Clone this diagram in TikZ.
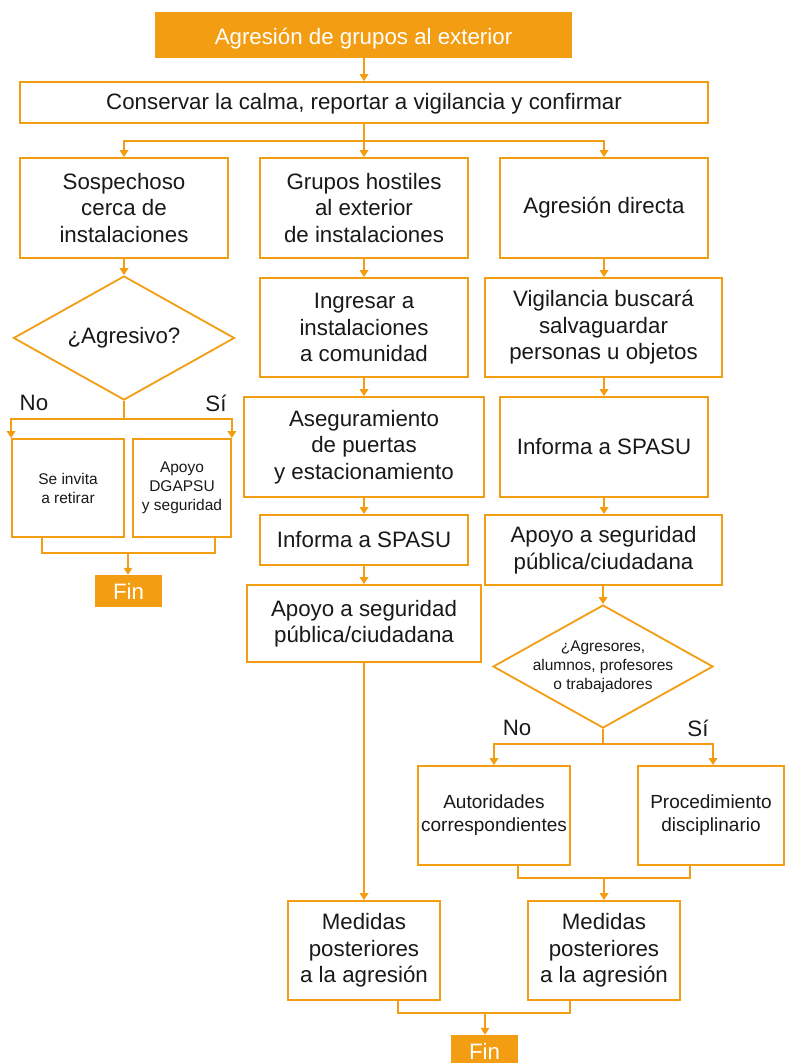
\documentclass[tikz,border=0pt]{standalone}
\usepackage{fontspec}
\setmainfont{Liberation Sans}
\usetikzlibrary{arrows.meta,shapes.geometric}
\definecolor{org}{RGB}{243,157,18}
\definecolor{txt}{RGB}{25,25,25}
\begin{document}
\begin{tikzpicture}[x=1pt,y=-1pt,
  big/.style={font=\fontsize{22.3}{26.5}\selectfont},
  med/.style={font=\fontsize{19}{23}\selectfont},
  small/.style={font=\fontsize{15.5}{19}\selectfont},
  box/.style={draw=org, line width=1.8pt, fill=white, text=txt, align=center, inner sep=0pt, big},
  filled/.style={fill=org, draw=none, text=white, align=center, inner sep=0pt, big},
  dia/.style={shape=diamond, draw=org, line width=1.8pt, fill=white, inner sep=0pt, aspect=1.8},
  txtn/.style={text=txt, align=center, inner sep=0pt},
  lbl/.style={text=txt, inner sep=0pt, big},
  ln/.style={draw=org, line width=1.8pt},
  arr/.style={draw=org, line width=1.8pt, -{Triangle[width=8.5pt,length=7pt]}}
]
\useasboundingbox (0,0) rectangle (786,1063);

% nodes
\node[filled, minimum width=417, minimum height=46] (top) at (363.5,35) {\raisebox{-4pt}[\height][\depth]{Agresión de grupos al exterior}};
\node[box, minimum width=688, minimum height=41] (conserve) at (364,102.5) {\raisebox{-1.5pt}[\height][\depth]{Conservar la calma, reportar a vigilancia y confirmar}};

\node[box, minimum width=208, minimum height=100] (s1) at (124,208) {Sospechoso\\cerca de\\instalaciones};
\node[box, minimum width=208, minimum height=100] (s2) at (364,208) {Grupos hostiles\\al exterior\\de instalaciones};
\node[box, minimum width=208, minimum height=100] (s3) at (604,208) {Agresión directa};

% left column
\node[dia, minimum width=221, minimum height=124] (d1) at (124,338) {};
\node[txtn, big] (d1t) at (d1.center) {¿Agresivo?};
\node[box, small, minimum width=112, minimum height=98] (l1) at (68,488) {Se invita\\a retirar};
\node[box, small, minimum width=98, minimum height=98] (l2) at (182,488) {Apoyo\\DGAPSU\\y seguridad};
\node[filled, minimum width=67, minimum height=32] (fin1) at (128.5,591) {Fin};
\node[lbl] (no1) at (34,403) {No};
\node[lbl] (si1) at (216,403) {Sí};

% middle column
\node[box, minimum width=208, minimum height=99] (m1) at (364,327.5) {Ingresar a\\instalaciones\\a comunidad};
\node[box, minimum width=240, minimum height=100] (m2) at (364,447) {Aseguramiento\\de puertas\\y estacionamiento};
\node[box, minimum width=208, minimum height=50] (m3) at (364,540) {Informa a SPASU};
\node[box, minimum width=234, minimum height=77] (m4) at (364,623.5) {Apoyo a seguridad\\pública/ciudadana};
\node[box, minimum width=152, minimum height=99] (f1) at (364,950.5) {Medidas\\posteriores\\a la agresión};

% right column
\node[box, minimum width=237, minimum height=99] (r1) at (603.5,327.5) {Vigilancia buscará\\salvaguardar\\personas u objetos};
\node[box, minimum width=208, minimum height=100] (r2) at (604,447) {Informa a SPASU};
\node[box, minimum width=237, minimum height=70] (r3) at (603.5,550) {Apoyo a seguridad\\pública/ciudadana};
\node[dia, minimum width=220, minimum height=123] (d2) at (603,666.5) {};
\node[txtn, small] (d2t) at (d2.center) {¿Agresores,\\alumnos, profesores\\o trabajadores};
\node[lbl] (no2) at (517,728) {No};
\node[lbl] (si2) at (698,728) {Sí};
\node[box, med, minimum width=152, minimum height=99] (a1) at (494,815.5) {Autoridades\\correspondientes};
\node[box, med, minimum width=146, minimum height=99] (a2) at (711,815.5) {Procedimiento\\disciplinario};
\node[box, minimum width=152, minimum height=99] (f2) at (604,950.5) {Medidas\\posteriores\\a la agresión};
\node[filled, minimum width=67, minimum height=33] (fin2) at (484.5,1051.5) {Fin};

% connectors
\draw[arr] (conserve.north |- top.south) -- (conserve.north);
\draw[ln] (conserve.south) -- ++(0,17) coordinate (br);
\draw[arr] (br) -| (s1.north);
\draw[arr] (br) -- (s2.north);
\draw[arr] (br) -| (s3.north);

\draw[arr] (s1.south) -- (d1.north);
\draw[ln] (d1.south) -- ++(0,18) coordinate (bd1);
\draw[arr] (bd1) -| (l1.north west);
\draw[arr] (bd1) -| (l2.north east);
\coordinate (j1) at (128,553);
\draw[ln] ([xshift=-26pt]l1.south) |- (j1);
\draw[ln] ([xshift=33pt]l2.south) |- (j1);
\draw[arr] (j1) -- (j1 |- fin1.north);

\draw[arr] (s2.south) -- (m1.north);
\draw[arr] (m1.south) -- (m2.north);
\draw[arr] (m2.south) -- (m3.north);
\draw[arr] (m3.south) -- (m4.north);
\draw[arr] (m4.south) -- (f1.north);

\draw[arr] (s3.south) -- (s3.south |- r1.north);
\draw[arr] (r1.south -| r2.north) -- (r2.north);
\draw[arr] (r2.south) -- (r2.south |- r3.north);
\draw[arr] (r3.south -| d2.north) -- (d2.north);
\draw[ln] (d2.south) -- ++(0,15) coordinate (bd2);
\draw[arr] (bd2) -| (a1.north);
\draw[arr] (bd2) -| ([xshift=2pt]a2.north);
\coordinate (j2) at (604,878);
\draw[ln] ([xshift=24pt]a1.south) |- (j2);
\draw[ln] ([xshift=-21pt]a2.south) |- (j2);
\draw[arr] (j2) -- (f2.north);

\coordinate (j3) at (485,1013);
\draw[ln] ([xshift=34pt]f1.south) |- (j3);
\draw[ln] ([xshift=-34pt]f2.south) |- (j3);
\draw[arr] (j3) -- (j3 |- fin2.north);
\end{tikzpicture}
\end{document}
